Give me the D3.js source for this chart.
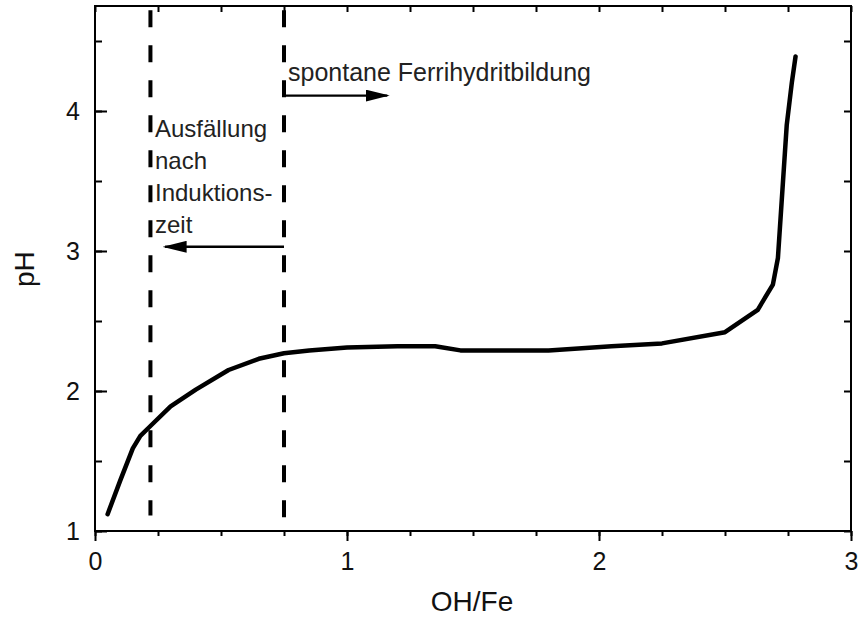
<!DOCTYPE html>
<html>
<head>
<meta charset="utf-8">
<script src="https://cdn.jsdelivr.net/npm/d3@7"></script>
<style>
  body { margin: 0; background: #fff; }
  svg { font-family: "Liberation Sans", Arial, sans-serif; }
</style>
</head>
<body>
<script>
// titration curve
var ohFe = [0.05, 0.1, 0.15, 0.18, 0.22, 0.3, 0.4, 0.53, 0.65, 0.75, 0.85, 1.0, 1.2, 1.35, 1.45, 1.6, 1.8, 2.05, 2.25, 2.5, 2.63, 2.69, 2.71, 2.745, 2.765, 2.78];
var pH   = [1.12, 1.36, 1.59, 1.68, 1.75, 1.89, 2.01, 2.15, 2.23, 2.27, 2.29, 2.31, 2.32, 2.32, 2.29, 2.29, 2.29, 2.32, 2.34, 2.42, 2.58, 2.76, 2.95, 3.9, 4.2, 4.39];

var xTicks = [0, 1, 2, 3];
var yTicks = [1, 2, 3, 4];
var xMinor = d3.range(0, 3.01, 0.25);
var yMinor = d3.range(1, 4.76, 0.5);

// dashed boundaries: x position and lowest pH they reach
var boundaries = [{ x: 0.22, y0: 1.11 }, { x: 0.75, y0: 1 }];

var width = 858, height = 619;

var svg = d3.select("body").append("svg")
    .attr("width", width)
    .attr("height", height);

var x = d3.scaleLinear().domain([0, 3]).range([95, 851]);
var y = d3.scaleLinear().domain([1, 4.75]).range([531, 6]);

var defs = svg.append("defs");
defs.append("marker")
    .attr("id", "head")
    .attr("viewBox", "0 0 20 10")
    .attr("refX", 18).attr("refY", 5)
    .attr("markerWidth", 10).attr("markerHeight", 5)
    .attr("markerUnits", "strokeWidth")
    .attr("orient", "auto")
  .append("path")
    .attr("d", "M0,0 L20,5 L0,10 Z")
    .attr("fill", "#000");

// frame
svg.append("rect")
    .attr("x", x(0)).attr("y", y(4.75))
    .attr("width", x(3) - x(0)).attr("height", y(1) - y(4.75))
    .attr("fill", "none").attr("stroke", "#000").attr("stroke-width", 2);

function styleAxis(g) {
  g.select(".domain").remove();
  g.selectAll(".tick line").attr("stroke", "#000").attr("stroke-width", 2);
  g.selectAll("text").attr("font-size", 25).attr("fill", "#111")
    .attr("font-family", "Liberation Sans, Arial, sans-serif");
}

// bottom: ticks outward
svg.append("g").attr("transform", "translate(0," + y(1) + ")")
    .call(d3.axisBottom(x).tickValues(xMinor).tickSize(5).tickFormat(""))
    .call(styleAxis);
svg.append("g").attr("transform", "translate(0," + y(1) + ")")
    .call(d3.axisBottom(x).tickValues(xTicks).tickSize(10).tickPadding(11).tickFormat(d3.format("d")))
    .call(styleAxis);

// top: ticks inward
svg.append("g").attr("transform", "translate(0," + y(4.75) + ")")
    .call(d3.axisTop(x).tickValues(xMinor).tickSize(-6).tickFormat(""))
    .call(styleAxis);

// left: ticks inward
svg.append("g").attr("transform", "translate(" + x(0) + ",0)")
    .call(d3.axisLeft(y).tickValues(yMinor).tickSize(-7).tickFormat(""))
    .call(styleAxis);
svg.append("g").attr("transform", "translate(" + x(0) + ",0)")
    .call(d3.axisLeft(y).tickValues(yTicks).tickSize(-12).tickPadding(15).tickFormat(d3.format("d")))
    .call(styleAxis);

// right: ticks inward
svg.append("g").attr("transform", "translate(" + x(3) + ",0)")
    .call(d3.axisRight(y).tickValues(yMinor).tickSize(-7).tickFormat(""))
    .call(styleAxis);

// axis titles
svg.append("text")
    .attr("x", (x(0) + x(3)) / 2 - 1).attr("y", 611)
    .attr("text-anchor", "middle").attr("font-size", 28).attr("fill", "#111")
    .text("OH/Fe");
svg.append("text")
    .attr("transform", "translate(34," + y(2.87) + ") rotate(-90)")
    .attr("text-anchor", "middle").attr("font-size", 28).attr("fill", "#111")
    .text("pH");

// dashed lines
svg.selectAll(".bound").data(boundaries).enter().append("line")
    .attr("class", "bound")
    .attr("x1", function (d) { return x(d.x); })
    .attr("x2", function (d) { return x(d.x); })
    .attr("y1", y(4.72))
    .attr("y2", function (d) { return y(d.y0); })
    .attr("stroke", "#000").attr("stroke-width", 4)
    .attr("stroke-dasharray", "17,18");

// curve
var line = d3.line()
    .x(function (d) { return x(d[0]); })
    .y(function (d) { return y(d[1]); });

svg.append("path")
    .datum(d3.zip(ohFe, pH))
    .attr("d", line)
    .attr("fill", "none")
    .attr("stroke", "#000")
    .attr("stroke-width", 4.5)
    .attr("stroke-linejoin", "round")
    .attr("stroke-linecap", "round");

// arrows
svg.append("line")
    .attr("x1", x(0.75)).attr("x2", x(1.16))
    .attr("y1", y(4.11)).attr("y2", y(4.11))
    .attr("stroke", "#000").attr("stroke-width", 2.4)
    .attr("marker-end", "url(#head)");
svg.append("line")
    .attr("x1", x(0.75)).attr("x2", x(0.278))
    .attr("y1", y(3.03)).attr("y2", y(3.03))
    .attr("stroke", "#000").attr("stroke-width", 2.4)
    .attr("marker-end", "url(#head)");

// annotations
svg.append("text")
    .attr("x", 288).attr("y", 81)
    .attr("font-size", 25)
    .attr("fill", "#222")
    .text("spontane Ferrihydritbildung");

var leftNote = ["Ausfällung", "nach", "Induktions-", "zeit"];
svg.selectAll(".note").data(leftNote).enter().append("text")
    .attr("class", "note")
    .attr("x", 155)
    .attr("y", function (d, i) { return 137 + i * 32; })
    .attr("font-size", 24)
    .attr("fill", "#222")
    .text(function (d) { return d; });
</script>
</body>
</html>
